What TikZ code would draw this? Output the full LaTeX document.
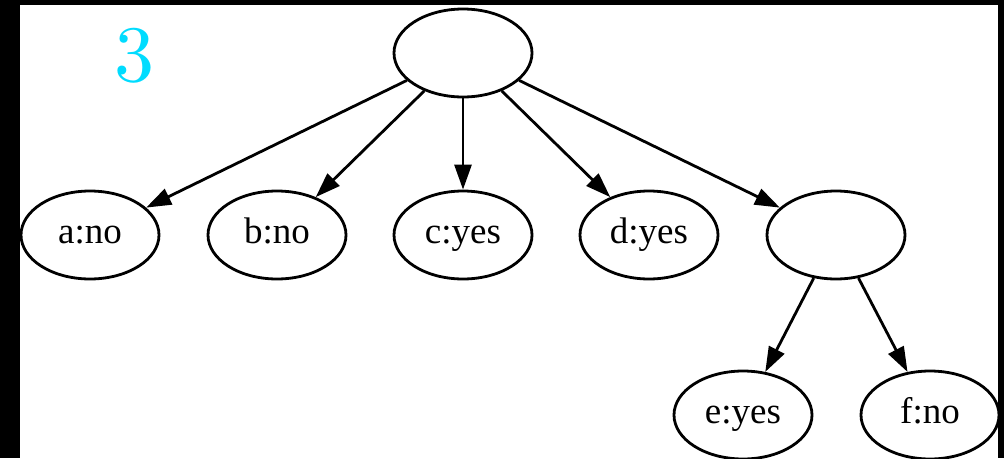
\documentclass[tikz,border=0pt]{standalone}
\usepackage{fontspec}
\newfontfamily\tms{Liberation Serif}
\newfontfamily\lmten{lmroman10-regular.otf}
\usetikzlibrary{shapes.geometric,arrows.meta}
\definecolor{cy}{RGB}{0,220,255}
\tikzset{
  leaf/.style={ellipse,draw=black,line width=2.8pt,minimum width=138pt,minimum height=88pt,inner sep=0pt,text height=25pt,text depth=9pt,font=\tms\fontsize{37}{37}\selectfont},
  edge/.style={line width=2.8pt,-{Triangle[length=25pt,width=17pt]}}
}
\begin{document}
\begin{tikzpicture}[x=1pt,y=-1pt]
\useasboundingbox (0,0) rectangle (1004,458);
\fill[white] (0,0) rectangle (1004,458);
\node[leaf] (r) at (463,53) {};
\node[leaf] (a) at (90,235) {a:no};
\node[leaf] (b) at (277,235) {b:no};
\node[leaf] (c) at (463,235) {c:yes};
\node[leaf] (d) at (649,235) {d:yes};
\node[leaf] (n) at (836,235) {};
\node[leaf] (e) at (743,415) {e:yes};
\node[leaf] (f) at (930,415) {f:no};
\draw[edge] (r) -- (a);
\draw[edge] (r) -- (b);
\draw[edge] (r) -- (c);
\draw[edge] (r) -- (d);
\draw[edge] (r) -- (n);
\draw[edge] (n) -- (e);
\draw[edge] (n) -- (f);
\node[text=cy,font=\lmten\fontsize{80}{80}\selectfont,inner sep=0pt] (t) at (134,56) {3};
\fill[black] (0,0) rectangle (20,458);
\fill[black] (0,0) rectangle (1004,5);
\fill[black] (998,0) rectangle (1004,458);
\end{tikzpicture}
\end{document}
